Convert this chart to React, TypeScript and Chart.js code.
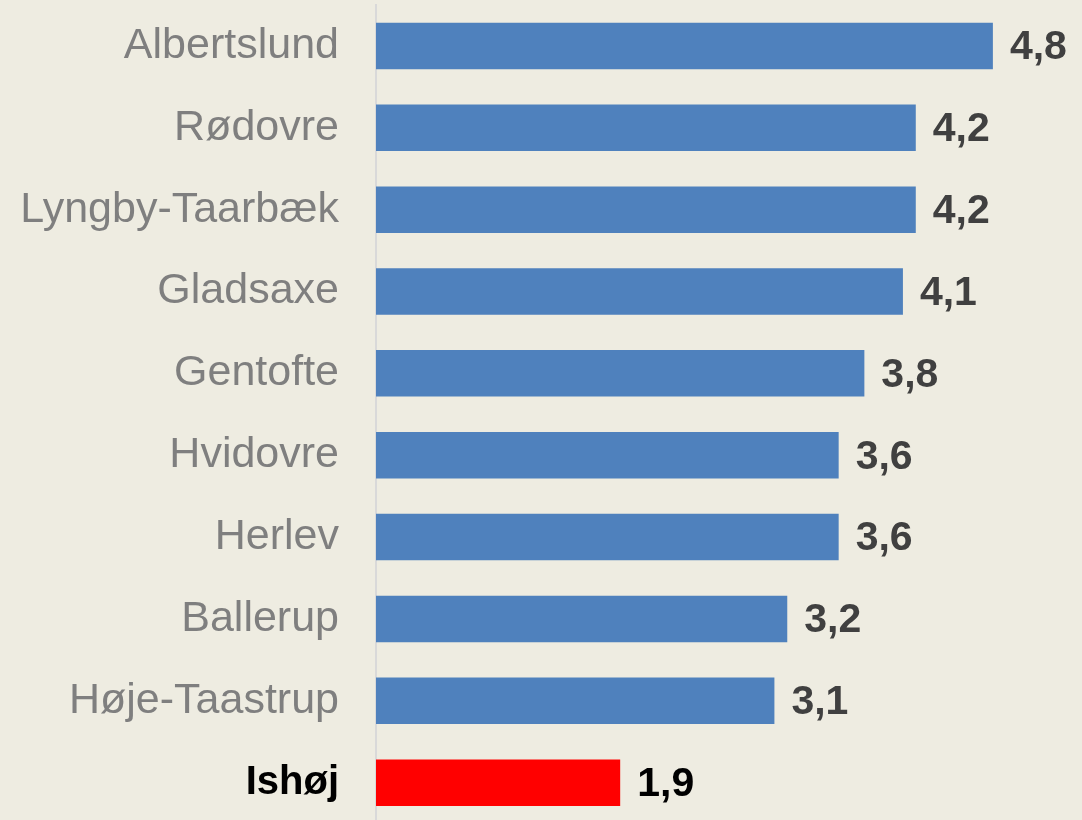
import React, { useEffect, useRef } from "react";
import { Chart, registerables } from "chart.js";

Chart.register(...registerables);

const categories = [
  "Albertslund",
  "Rødovre",
  "Lyngby-Taarbæk",
  "Gladsaxe",
  "Gentofte",
  "Hvidovre",
  "Herlev",
  "Ballerup",
  "Høje-Taastrup",
  "Ishøj",
];
const values = [4.8, 4.2, 4.2, 4.1, 3.8, 3.6, 3.6, 3.2, 3.1, 1.9];
const barColors = [
  "#4F81BD", "#4F81BD", "#4F81BD", "#4F81BD", "#4F81BD",
  "#4F81BD", "#4F81BD", "#4F81BD", "#4F81BD", "#FF0000",
];
const highlightIndex = 9;

const BG = "#EEECE1";

const bgPlugin = {
  id: "bgFill",
  beforeDraw(chart: any) {
    const ctx = chart.ctx;
    ctx.save();
    ctx.fillStyle = BG;
    ctx.fillRect(0, 0, chart.width, chart.height);
    ctx.restore();
  },
};

const valueLabelPlugin = {
  id: "valueLabels",
  afterDatasetsDraw(chart: any) {
    const ctx = chart.ctx;
    const meta = chart.getDatasetMeta(0);
    ctx.save();
    ctx.textAlign = "left";
    ctx.textBaseline = "middle";
    meta.data.forEach((bar: any, i: number) => {
      const v = values[i];
      ctx.font = "bold 41px 'Liberation Sans', Arial, sans-serif";
      ctx.fillStyle = i === highlightIndex ? "#000000" : "#404040";
      ctx.fillText(v.toFixed(1).replace(".", ","), bar.x + 17, bar.y + 2);
    });
    ctx.restore();
  },
};

export default function App() {
  const ref = useRef<HTMLCanvasElement | null>(null);
  useEffect(() => {
    document.body.style.margin = "0";
    document.body.style.background = BG;
    if (!ref.current) return;
    const chart = new Chart(ref.current, {
      type: "bar",
      data: {
        labels: categories,
        datasets: [
          {
            data: values,
            backgroundColor: barColors,
            borderWidth: 0,
            barPercentage: 0.568,
            categoryPercentage: 1,
          },
        ],
      },
      options: {
        indexAxis: "y",
        animation: false,
        responsive: false,
        maintainAspectRatio: false,
        layout: { padding: { top: 5, right: 12, bottom: 5.4, left: 0 } },
        plugins: {
          legend: { display: false },
          tooltip: { enabled: false },
        },
        scales: {
          x: {
            display: false,
            min: 0,
            max: 5.4,
          },
          y: {
            afterFit(scale: any) {
              scale.width = 376;
              scale.paddingTop = 0;
              scale.paddingBottom = 0;
            },
            grid: { display: false, drawTicks: false },
            border: { display: true, color: "#D9D9D9", width: 2 },
            ticks: {
              padding: 37,
              font: (ctx: any) =>
                ctx.index === highlightIndex
                  ? { family: "'Liberation Sans', Arial, sans-serif", size: 40, weight: "bold" }
                  : { family: "'Liberation Sans', Arial, sans-serif", size: 43, weight: "normal" },
              color: (ctx: any) => (ctx.index === highlightIndex ? "#000000" : "#7F7F7F"),
            },
          },
        },
      } as any,
      plugins: [bgPlugin, valueLabelPlugin],
    });
    return () => chart.destroy();
  }, []);
  return (
    <div style={{ width: 1082, height: 829, background: BG }}>
      <canvas ref={ref} width={1082} height={829} />
    </div>
  );
}
